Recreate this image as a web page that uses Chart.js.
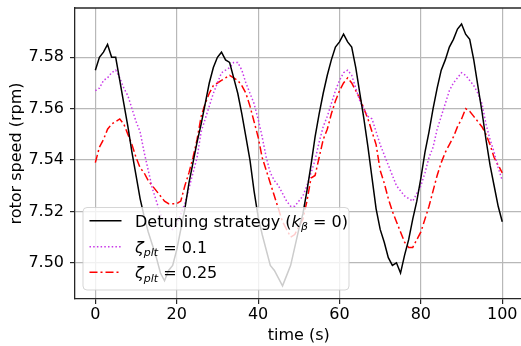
<!DOCTYPE html>
<html>
<head>
<meta charset="utf-8">
<script src="https://cdn.jsdelivr.net/npm/chart.js@4"></script>
<style>
  html, body { margin: 0; padding: 0; overflow: hidden; background: #fff; }
  canvas { display: block; }
</style>
</head>
<body>
<canvas id="chart" width="524" height="346"></canvas>
<script>
// time axis (s)
const time = [0,1,2,3,4,5,6,7,8,9,10,11,12,13,14,15,16,17,18,19,20,
  21,22,23,24,25,26,27,28,29,30,31,32,33,34,35,36,37,38,39,40,
  41,42,43,44,45,46,47,48,49,50,51,52,53,54,55,56,57,58,59,60,
  61,62,63,64,65,66,67,68,69,70,71,72,73,74,75,76,77,78,79,80,
  81,82,83,84,85,86,87,88,89,90,91,92,93,94,95,96,97,98,99,100];

// rotor speed (rpm), detuning strategy
const detuning = [7.575,7.580,7.582,7.585,7.580,7.580,7.571,7.562,7.553,7.543,7.534,
  7.525,7.518,7.512,7.507,7.502,7.496,7.493,7.497,7.499,7.505,
  7.513,7.521,7.531,7.539,7.547,7.554,7.562,7.570,7.576,7.580,
  7.582,7.579,7.578,7.572,7.566,7.558,7.549,7.540,7.528,7.518,
  7.511,7.505,7.499,7.497,7.494,7.491,7.495,7.499,7.506,7.513,
  7.519,7.528,7.538,7.549,7.558,7.566,7.573,7.579,7.584,7.586,
  7.589,7.586,7.584,7.576,7.566,7.556,7.545,7.533,7.521,7.513,
  7.508,7.502,7.499,7.500,7.496,7.503,7.509,7.517,7.524,7.533,
  7.543,7.551,7.560,7.568,7.575,7.579,7.584,7.587,7.591,7.593,
  7.589,7.587,7.579,7.569,7.559,7.548,7.538,7.530,7.522,7.516];

// zeta_plt = 0.1
const zeta01 = [7.567,7.568,7.571,7.572,7.574,7.575,7.572,7.568,7.565,7.560,7.555,
  7.551,7.543,7.536,7.529,7.524,7.519,7.516,7.514,7.513,7.515,
  7.519,7.523,7.529,7.535,7.541,7.551,7.556,7.561,7.566,7.570,
  7.574,7.575,7.576,7.578,7.578,7.575,7.570,7.566,7.562,7.556,
  7.549,7.541,7.535,7.532,7.530,7.527,7.524,7.522,7.522,7.524,
  7.526,7.530,7.535,7.540,7.547,7.553,7.557,7.562,7.567,7.571,
  7.574,7.575,7.573,7.568,7.563,7.560,7.557,7.556,7.551,7.546,
  7.542,7.538,7.534,7.530,7.528,7.526,7.525,7.524,7.527,7.530,
  7.535,7.541,7.545,7.552,7.557,7.562,7.567,7.570,7.572,7.574,
  7.573,7.571,7.569,7.566,7.562,7.554,7.548,7.543,7.537,7.532];

// zeta_plt = 0.25
const zeta025 = [7.539,7.545,7.548,7.552,7.554,7.555,7.556,7.554,7.550,7.546,7.541,
  7.537,7.535,7.532,7.530,7.528,7.526,7.524,7.523,7.523,7.523,
  7.524,7.530,7.535,7.541,7.548,7.557,7.562,7.566,7.569,7.570,
  7.571,7.572,7.573,7.572,7.571,7.569,7.566,7.561,7.555,7.549,
  7.541,7.536,7.531,7.526,7.521,7.516,7.513,7.510,7.511,7.514,
  7.517,7.524,7.533,7.534,7.541,7.548,7.552,7.558,7.563,7.567,
  7.570,7.572,7.570,7.567,7.564,7.560,7.556,7.551,7.546,7.536,
  7.531,7.525,7.520,7.516,7.512,7.508,7.506,7.506,7.509,7.512,
  7.517,7.522,7.528,7.534,7.539,7.543,7.546,7.549,7.553,7.556,
  7.560,7.559,7.557,7.555,7.553,7.550,7.546,7.541,7.538,7.535];

const xTicks = [0, 20, 40, 60, 80, 100];
const yTicks = [7.50, 7.52, 7.54, 7.56, 7.58];

const seriesLabels = ['Detuning strategy (kβ = 0)', 'ζplt = 0.1', 'ζplt = 0.25'];
// legend text pieces (mathtext look)
const legendParts = [
  [{t: 'Detuning strategy ('}, {t: 'k', it: true}, {t: 'β', it: true, sub: true}, {t: ' = 0)'}],
  [{t: 'ζ', it: true}, {t: 'plt', it: true, sub: true}, {t: ' = 0.1'}],
  [{t: 'ζ', it: true}, {t: 'plt', it: true, sub: true}, {t: ' = 0.25'}]
];

const FONT = "'DejaVu Sans'";
Chart.defaults.color = '#000';
Chart.defaults.font.family = FONT;
Chart.defaults.font.size = 16;

function toPoints(values) {
  return values.map((v, i) => ({x: time[i], y: v}));
}

// matplotlib style legend, drawn over the lines
const mplLegend = {
  id: 'mplLegend',
  afterDatasetsDraw(chart) {
    const ctx = chart.ctx;
    const area = chart.chartArea;
    ctx.save();
    // top spine
    ctx.strokeStyle = '#262626';
    ctx.lineWidth = 1.3;
    ctx.beginPath();
    ctx.moveTo(area.left, area.top);
    ctx.lineTo(area.right, area.top);
    ctx.stroke();

    const bx = 83, by = 207.5, bw = 266, bh = 82.5;
    ctx.beginPath();
    ctx.roundRect(bx, by, bw, bh, 4);
    ctx.fillStyle = 'rgba(255,255,255,0.8)';
    ctx.fill();
    ctx.strokeStyle = 'rgba(204,204,204,0.8)';
    ctx.lineWidth = 1;
    ctx.stroke();

    const rows = [220.7, 246.7, 272.3];
    chart.data.datasets.forEach((ds, i) => {
      const y = rows[i];
      ctx.strokeStyle = ds.borderColor;
      ctx.lineWidth = ds.borderWidth;
      ctx.setLineDash(ds.borderDash || []);
      ctx.beginPath();
      ctx.moveTo(89.5, y);
      ctx.lineTo(121.5, y);
      ctx.stroke();
      ctx.setLineDash([]);

      let x = 135;
      ctx.fillStyle = '#000';
      ctx.textBaseline = 'alphabetic';
      legendParts[i].forEach(p => {
        const size = p.sub ? 11 : 16;
        ctx.font = (p.it ? 'italic ' : '') + size + 'px ' + FONT;
        ctx.fillText(p.t, x, y + 6 + (p.sub ? 3.5 : 0));
        x += ctx.measureText(p.t).width;
      });
    });
    ctx.restore();
  }
};

const gridOpts = { color: '#b8b8b8', lineWidth: 1.2, tickLength: 5, tickColor: '#262626', tickWidth: 1.2 };
const borderOpts = { display: true, color: '#262626', width: 1.3 };

new Chart(document.getElementById('chart'), {
  type: 'line',
  data: {
    datasets: [{
      label: seriesLabels[0],
      data: toPoints(detuning),
      borderColor: '#000000',
      borderWidth: 1.5,
      pointRadius: 0,
      tension: 0
    }, {
      label: seriesLabels[1],
      data: toPoints(zeta01),
      borderColor: '#c837e8',
      borderWidth: 1.5,
      borderDash: [1.5, 2.2],
      pointRadius: 0,
      tension: 0
    }, {
      label: seriesLabels[2],
      data: toPoints(zeta025),
      borderColor: '#ff0000',
      borderWidth: 1.5,
      borderDash: [8, 3, 2, 3],
      pointRadius: 0,
      tension: 0
    }]
  },
  options: {
    responsive: false,
    animation: false,
    events: [],
    layout: { padding: { top: 8, right: 1.4, left: 0, bottom: 0 } },
    plugins: {
      legend: { display: false },
      tooltip: { enabled: false }
    },
    scales: {
      x: {
        type: 'linear',
        min: -5,
        max: 105,
        afterBuildTicks: s => { s.ticks = xTicks.map(v => ({value: v})); },
        afterFit: s => { s.height = 47; s.paddingLeft = 0; s.paddingRight = 0; },
        ticks: { padding: 3, font: { size: 16, lineHeight: 1 }, callback: v => v },
        grid: gridOpts,
        border: borderOpts,
        title: { display: true, text: 'time (s)', font: { size: 16 }, padding: { top: 0, bottom: 0.4 } }
      },
      y: {
        min: 7.4859,
        max: 7.5992,
        afterBuildTicks: s => { s.ticks = yTicks.map(v => ({value: v})); },
        afterFit: s => { s.width = 75; s.paddingTop = 0; s.paddingBottom = 0; },
        ticks: { padding: 6, font: { size: 16 }, callback: v => v.toFixed(2) },
        grid: gridOpts,
        border: borderOpts,
        title: { display: true, text: 'rotor speed (rpm)', font: { size: 16 }, padding: { top: 7.4, bottom: 0 } }
      }
    }
  },
  plugins: [mplLegend]
});
</script>
</body>
</html>
